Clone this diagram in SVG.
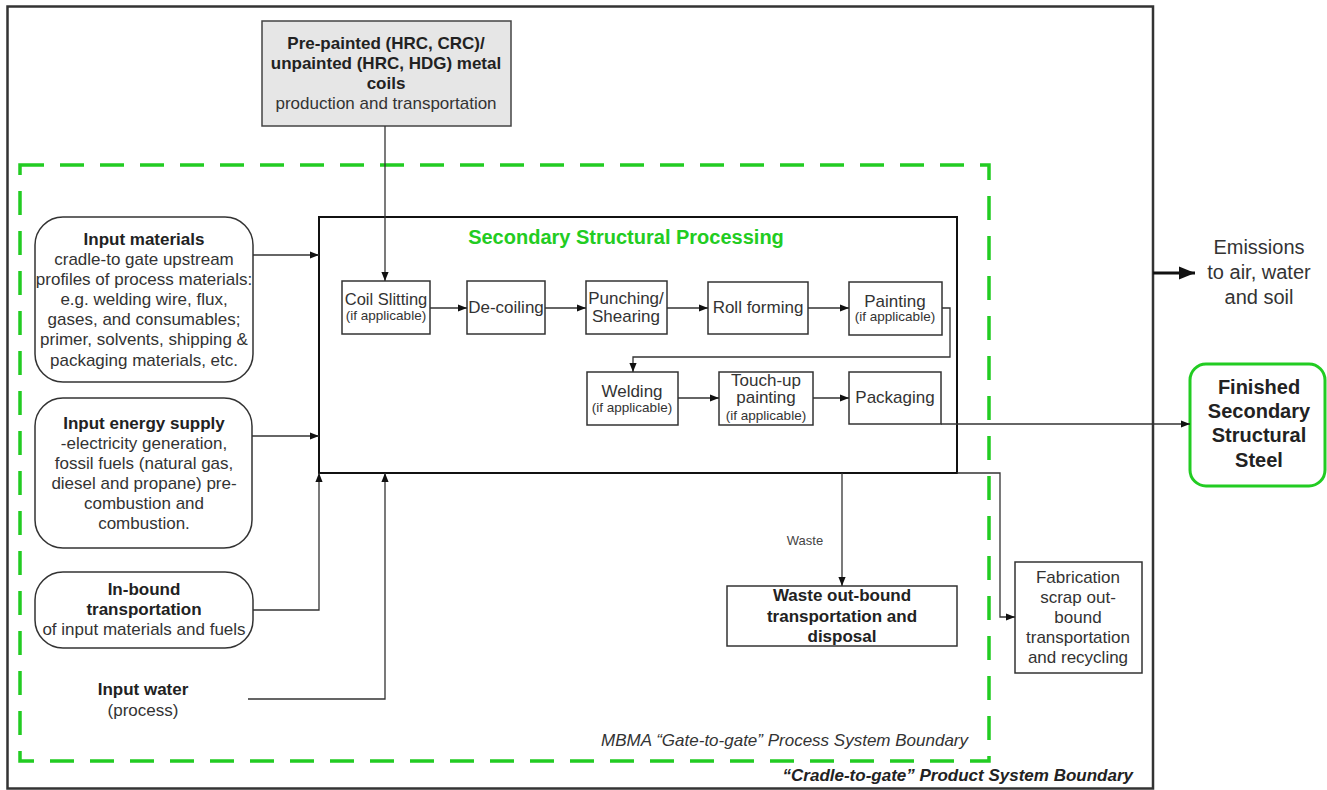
<svg xmlns="http://www.w3.org/2000/svg" width="1327" height="790" viewBox="0 0 1327 790">
<style>
text{font-family:"Liberation Sans",Arial,sans-serif;font-size:17px;fill:#333;text-anchor:middle}
.b{font-weight:bold;fill:#222}
.s{font-size:13.5px}
.box{fill:#fff;stroke:#333;stroke-width:1.5}
.conn{fill:none;stroke:#333;stroke-width:1.3}
.thick{fill:none;stroke:#111;stroke-width:3}
</style>
<defs>
<marker id="ah" viewBox="0 0 10 10" refX="10" refY="5" markerWidth="9" markerHeight="9" markerUnits="userSpaceOnUse" orient="auto">
<path d="M0,1 L10,5 L0,9 z" fill="#111"/>
</marker>
<marker id="ahb" viewBox="0 0 10 10" refX="10" refY="5" markerWidth="16" markerHeight="16" markerUnits="userSpaceOnUse" orient="auto">
<path d="M0,1 L10,5 L0,9 z" fill="#111"/>
</marker>
</defs>
<rect id="product-boundary" x="7.5" y="6.5" width="1145.5" height="782" fill="none" stroke="#333" stroke-width="2.5"/>
<rect id="process-boundary" x="20" y="165" width="969" height="596" fill="none" stroke="#22cc22" stroke-width="3.5" stroke-dasharray="24,16"/>
<text x="968" y="746" style="font-style:italic;text-anchor:end">MBMA “Gate-to-gate” Process System Boundary</text>
<text x="1133" y="781" class="b" style="font-style:italic;text-anchor:end">“Cradle-to-gate” Product System Boundary</text>

<g id="coils">
<rect x="262" y="21" width="249" height="105" fill="#e6e6e6" stroke="#444" stroke-width="1.5"/>
<text x="386" y="49" class="b">Pre-painted (HRC, CRC)/</text>
<text x="386" y="69" class="b">unpainted (HRC, HDG) metal</text>
<text x="386" y="89" class="b">coils</text>
<text x="386" y="109">production and transportation</text>
</g>

<g id="input-materials">
<rect x="35" y="217" width="218" height="165" rx="28" class="box"/>
<text x="144" y="245" class="b">Input materials</text>
<text x="144" y="265">cradle-to gate upstream</text>
<text x="144" y="285">profiles of process materials:</text>
<text x="144" y="305">e.g. welding wire, flux,</text>
<text x="144" y="325">gases, and consumables;</text>
<text x="144" y="345">primer, solvents, shipping &amp;</text>
<text x="144" y="366">packaging materials, etc.</text>
</g>

<g id="input-energy">
<rect x="35" y="398" width="217" height="150" rx="28" class="box"/>
<text x="144" y="429" class="b">Input energy supply</text>
<text x="144" y="449">-electricity generation,</text>
<text x="144" y="469">fossil fuels (natural gas,</text>
<text x="144" y="489">diesel and propane) pre-</text>
<text x="144" y="509">combustion and</text>
<text x="144" y="529">combustion.</text>
</g>

<g id="inbound">
<rect x="35" y="572" width="218" height="76" rx="28" class="box"/>
<text x="144" y="595" class="b">In-bound</text>
<text x="144" y="615" class="b">transportation</text>
<text x="144" y="635">of input materials and fuels</text>
</g>

<g id="input-water">
<text x="143" y="695" class="b">Input water</text>
<text x="143" y="716">(process)</text>
</g>

<g id="secondary-processing">
<rect x="319" y="217" width="638" height="256" fill="#fff" stroke="#111" stroke-width="2"/>
<text x="626" y="244" class="b" style="font-size:20px;fill:#22cc22">Secondary Structural Processing</text>
</g>

<g id="coil-slitting">
<rect x="342" y="281" width="88" height="53" class="box"/>
<text x="386" y="305" style="font-size:16.5px">Coil Slitting</text>
<text x="386" y="320" class="s">(if applicable)</text>
</g>
<g id="de-coiling">
<rect x="467" y="281" width="78" height="53" class="box"/>
<text x="506" y="313">De-coiling</text>
</g>
<g id="punching">
<rect x="586" y="281" width="81" height="53" class="box"/>
<text x="626" y="304">Punching/</text>
<text x="626" y="322">Shearing</text>
</g>
<g id="roll-forming">
<rect x="708" y="282" width="100" height="52" class="box"/>
<text x="758" y="313">Roll forming</text>
</g>
<g id="painting">
<rect x="849" y="282" width="93" height="53" class="box"/>
<text x="895" y="307">Painting</text>
<text x="895" y="321" class="s">(if applicable)</text>
</g>
<g id="welding">
<rect x="587" y="372" width="91" height="53" class="box"/>
<text x="632" y="397">Welding</text>
<text x="632" y="412" class="s">(if applicable)</text>
</g>
<g id="touch-up">
<rect x="719" y="372" width="94" height="53" class="box"/>
<text x="766" y="386">Touch-up</text>
<text x="766" y="403">painting</text>
<text x="766" y="420" class="s">(if applicable)</text>
</g>
<g id="packaging">
<rect x="849" y="372" width="92" height="52" class="box"/>
<text x="895" y="403">Packaging</text>
</g>

<g id="emissions">
<text x="1259" y="254" style="font-size:20px">Emissions</text>
<text x="1259" y="279" style="font-size:20px">to air, water</text>
<text x="1259" y="304" style="font-size:20px">and soil</text>
</g>

<g id="finished">
<rect x="1190" y="364" width="135" height="122" rx="16" fill="#fff" stroke="#22cc22" stroke-width="3"/>
<text x="1259" y="394" class="b" style="font-size:20px">Finished</text>
<text x="1259" y="418" class="b" style="font-size:20px">Secondary</text>
<text x="1259" y="442" class="b" style="font-size:20px">Structural</text>
<text x="1259" y="467" class="b" style="font-size:20px">Steel</text>
</g>

<g id="waste-disposal">
<rect x="727" y="586" width="230" height="60" class="box"/>
<text x="842" y="601" class="b">Waste out-bound</text>
<text x="842" y="622" class="b">transportation and</text>
<text x="842" y="642" class="b">disposal</text>
</g>

<g id="fabrication-scrap">
<rect x="1015" y="562" width="127" height="111" class="box"/>
<text x="1078" y="583">Fabrication</text>
<text x="1078" y="603">scrap out-</text>
<text x="1078" y="623">bound</text>
<text x="1078" y="643">transportation</text>
<text x="1078" y="663">and recycling</text>
</g>

<g id="connectors">
<path class="conn" d="M385 126 V281" marker-end="url(#ah)"/>
<path class="conn" d="M253 255 H319" marker-end="url(#ah)"/>
<path class="conn" d="M252 436 H319" marker-end="url(#ah)"/>
<path class="conn" d="M253 610 H319 V473" marker-end="url(#ah)"/>
<path class="conn" d="M248 699 H385 V473" marker-end="url(#ah)"/>
<path class="conn" d="M430 308 H467" marker-end="url(#ah)"/>
<path class="conn" d="M545 308 H586" marker-end="url(#ah)"/>
<path class="conn" d="M667 308 H708" marker-end="url(#ah)"/>
<path class="conn" d="M808 308 H849" marker-end="url(#ah)"/>
<path class="conn" d="M942 308 H950 V357 H633 V372" marker-end="url(#ah)"/>
<path class="conn" d="M678 398 H719" marker-end="url(#ah)"/>
<path class="conn" d="M813 398 H849" marker-end="url(#ah)"/>
<path class="conn" d="M941 424 H1190" marker-end="url(#ah)"/>
<path class="conn" d="M842 473 V586" marker-end="url(#ah)"/>
<path class="conn" d="M957 473 H1000 V617 H1015" marker-end="url(#ah)"/>
<path class="thick" d="M1153 273 H1195" marker-end="url(#ahb)"/>
<text x="805" y="545" style="font-size:13px;fill:#444">Waste</text>
</g>
</svg>
